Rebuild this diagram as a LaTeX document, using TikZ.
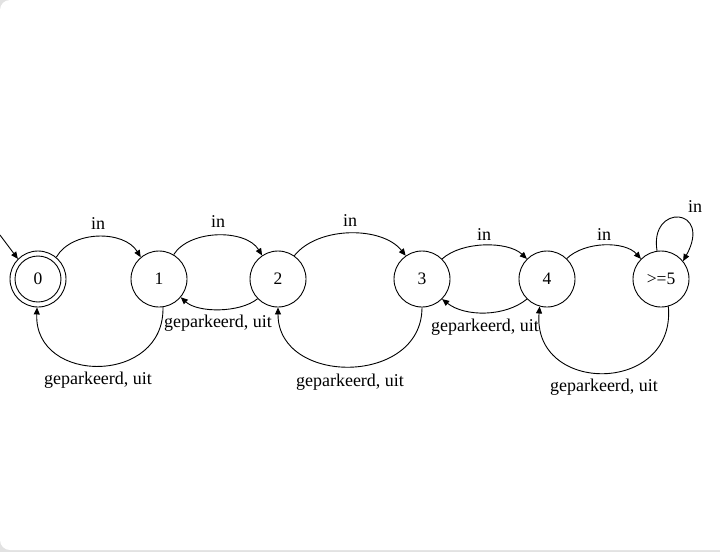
\documentclass[tikz,border=0pt]{standalone}
\usepackage{fontspec}
\setmainfont{Liberation Serif}
\usetikzlibrary{arrows.meta}
\definecolor{bggray}{HTML}{E2E2E2}
\begin{document}
\begin{tikzpicture}[x=1pt,y=-1pt,
  state/.style={draw, circle, line width=0.9pt, minimum size=56pt, inner sep=0pt, font=\fontsize{17.5}{20}\selectfont},
  arr/.style={draw, line width=0.9pt, -{Triangle[length=7pt,width=6pt]}},
  lbl/.style={font=\fontsize{18}{21}\selectfont, inner sep=0pt}]
\useasboundingbox (0,0) rectangle (720,552);
\fill[bggray] (0,0) rectangle (720,552);
\fill[white, rounded corners=10pt] (0,0) rectangle (740,550);

\node[state] (n0) at (38,279) {0};
\draw[line width=0.9pt] (n0.center) circle (23pt);
\node[state] (n1) at (159,279) {1};
\node[state] (n2) at (278,279) {2};
\node[state] (n3) at (422,279) {3};
\node[state] (n4) at (547,279) {4};
\node[state] (n5) at (661,279) {>=5};

\coordinate (start) at (0,235);
\draw[arr] (start) -- (n0.135);

% 0 -> 1
\draw[arr] (n0.50) .. controls (72,230) and (124,230) .. (n1.130);
\node[lbl] (l01) at (98,224) {in};
% 1 -> 0
\draw[arr] (n1.-82) .. controls (165,385) and (34,385) .. (n0.-92);
\node[lbl] (l10) at (98,380) {geparkeerd, uit};

% 1 -> 2
\draw[arr] (n1.59) .. controls (190,229) and (246,229) .. (n2.124);
\node[lbl] (l12) at (218,222) {in};
% 2 -> 1
\draw[arr] (n2.-136) .. controls (240,313) and (198,313) .. (n1.-40);
\node[lbl] (l21) at (218,323) {geparkeerd, uit};

% 2 -> 3
\draw[arr] (n2.55) .. controls (318,226) and (382,226) .. (n3.125);
\node[lbl] (l23) at (350,221) {in};
% 3 -> 2
\draw[arr] (n3.-90) .. controls (422,386) and (278,386) .. (n2.-90);
\node[lbl] (l32) at (350,382) {geparkeerd, uit};

% 3 -> 4
\draw[arr] (n3.45) .. controls (462,241) and (508,241) .. (n4.135);
\node[lbl] (l34) at (484,235) {in};
% 4 -> 3
\draw[arr] (n4.-135) .. controls (505,317) and (465,317) .. (n3.-45);
\node[lbl] (l43) at (485,327) {geparkeerd, uit};

% 4 -> 5
\draw[arr] (n4.46) .. controls (585,241) and (625,241) .. (n5.135);
\node[lbl] (l45) at (604,235) {in};
% 5 -> 4
\draw[arr] (n5.-75) .. controls (676,395) and (532,395) .. (n4.-105);
\node[lbl] (l54) at (604,387) {geparkeerd, uit};

% 5 -> 5
\draw[arr] (n5.98) .. controls (649,203) and (713,207) .. (n5.39);
\node[lbl] (l55) at (695,207) {in};
\end{tikzpicture}
\end{document}
